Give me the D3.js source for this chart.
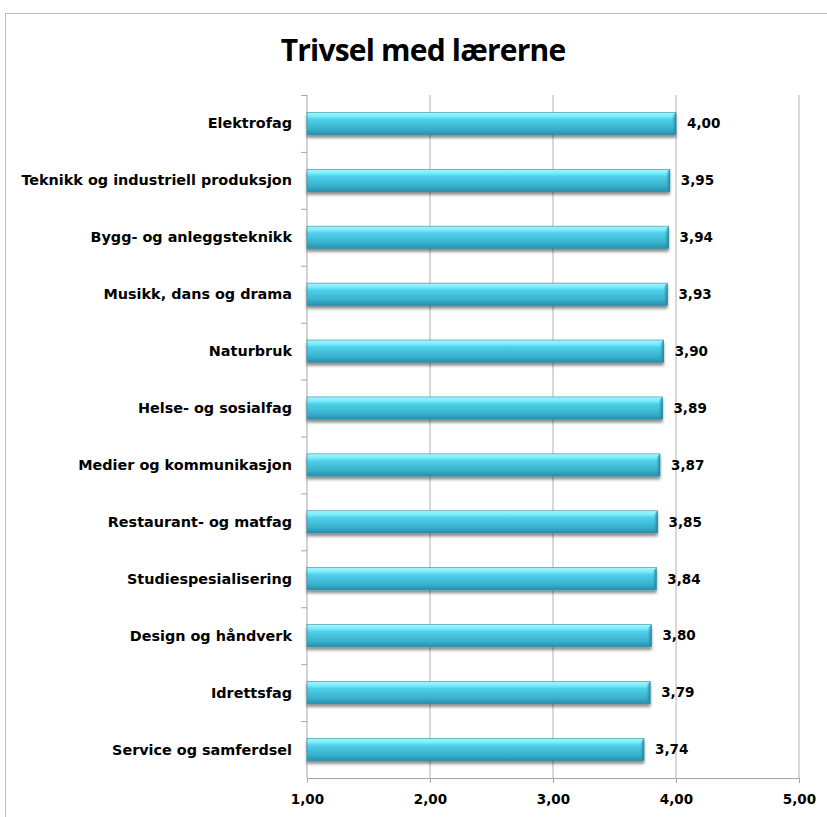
<!DOCTYPE html>
<html>
<head>
<meta charset="utf-8">
<script src="https://cdn.jsdelivr.net/npm/d3@7"></script>
<style>
  body { margin: 0; background: #fff; }
  text { font-family: "DejaVu Sans", Verdana, sans-serif; }
</style>
</head>
<body>
<svg class="chart"></svg>
<script>
const size = {w: 827, h: 817};

// chart data, top to bottom
const categories = [
    'Elektrofag',
    'Teknikk og industriell produksjon',
    'Bygg- og anleggsteknikk',
    'Musikk, dans og drama',
    'Naturbruk',
    'Helse- og sosialfag',
    'Medier og kommunikasjon',
    'Restaurant- og matfag',
    'Studiespesialisering',
    'Design og håndverk',
    'Idrettsfag',
    'Service og samferdsel'
];
const values = [4.00, 3.95, 3.94, 3.93, 3.90, 3.89, 3.87, 3.85, 3.84, 3.80, 3.79, 3.74];
const xTicks = [1, 2, 3, 4, 5];
const title = 'Trivsel med lærerne';

const margin = {top: 95, right: 28, bottom: 39, left: 307};

const svg = d3.select('svg.chart')
    .attr('width', size.w)
    .attr('height', size.h);

const fmt = v => d3.format('.2f')(v).replace('.', ',');

// gradient + shadow definitions for the "bevel" look
const defs = svg.append('defs');
const grad = defs.append('linearGradient')
    .attr('id', 'barGrad')
    .attr('x1', 0).attr('y1', 0).attr('x2', 0).attr('y2', 1);
[[0, '#a6f7ff'], [0.18, '#78ecfc'], [0.32, '#4fd0e9'], [0.75, '#38b1cd'], [1, '#2790ac']]
    .forEach(s => grad.append('stop').attr('offset', s[0]).attr('stop-color', s[1]));

const capGrad = defs.append('linearGradient')
    .attr('id', 'capGrad')
    .attr('x1', 0).attr('y1', 0).attr('x2', 1).attr('y2', 0);
capGrad.append('stop').attr('offset', 0).attr('stop-color', '#2f9ab5').attr('stop-opacity', 0);
capGrad.append('stop').attr('offset', 1).attr('stop-color', '#1f7f99').attr('stop-opacity', 0.9);

const shadow = defs.append('filter')
    .attr('id', 'shadow')
    .attr('x', '-5%').attr('y', '-50%').attr('width', '110%').attr('height', '200%');
shadow.append('feGaussianBlur').attr('in', 'SourceAlpha').attr('stdDeviation', 1.6).attr('result', 'blur');
shadow.append('feOffset').attr('in', 'blur').attr('dx', 0).attr('dy', 2.5).attr('result', 'off');
shadow.append('feComponentTransfer').attr('in', 'off').attr('result', 'sh')
    .append('feFuncA').attr('type', 'linear').attr('slope', 0.45);
const merge = shadow.append('feMerge');
merge.append('feMergeNode').attr('in', 'sh');
merge.append('feMergeNode').attr('in', 'SourceGraphic');

// outer frame
svg.append('rect')
    .attr('x', 5.5).attr('y', 13.5)
    .attr('width', 1000).attr('height', 1000)
    .attr('fill', 'none')
    .attr('stroke', '#b9b9b9');

// title
svg.append('text')
    .attr('x', 423).attr('y', 61)
    .attr('text-anchor', 'middle')
    .style('font-family', '"Open Sans", sans-serif')
    .style('font-size', '30px')
    .style('font-weight', 700)
    .style('letter-spacing', '-0.8px')
    .text(title);

// scales
const x = d3.scaleLinear()
    .domain([1, 5])
    .range([margin.left, size.w - margin.right]);

const y = d3.scaleBand()
    .domain(categories)
    .range([margin.top, size.h - margin.bottom]);

const plotBottom = size.h - margin.bottom;

// vertical gridlines
svg.append('g')
    .selectAll('line')
    .data(xTicks.slice(1))
    .join('line')
    .attr('x1', d => x(d)).attr('x2', d => x(d))
    .attr('y1', margin.top).attr('y2', plotBottom)
    .attr('stroke', '#bfbfbf')
    .attr('stroke-width', 1.2);

// x axis
const xAxis = svg.append('g')
    .attr('transform', `translate(0,${plotBottom})`)
    .call(d3.axisBottom(x).tickValues(xTicks).tickFormat(fmt).tickSize(5).tickPadding(11));
xAxis.select('.domain').attr('stroke', '#a6a6a6');
xAxis.selectAll('.tick line').attr('stroke', '#a6a6a6');
xAxis.selectAll('.tick text')
    .style('font-family', '"DejaVu Sans", sans-serif')
    .style('font-size', '13.5px')
    .style('font-weight', 'bold')
    .attr('fill', '#000');

// y axis (left line plus ticks between categories)
svg.append('line')
    .attr('x1', x(1)).attr('x2', x(1))
    .attr('y1', margin.top).attr('y2', plotBottom)
    .attr('stroke', '#a6a6a6');
svg.append('g')
    .selectAll('line')
    .data(categories)
    .join('line')
    .attr('x1', x(1) - 6).attr('x2', x(1))
    .attr('y1', d => y(d) + 0.5).attr('y2', d => y(d) + 0.5)
    .attr('stroke', '#a6a6a6');

// category labels
svg.append('g')
    .selectAll('text')
    .data(categories)
    .join('text')
    .attr('x', x(1) - 15)
    .attr('y', d => y(d) + y.bandwidth() / 2)
    .attr('dy', '0.35em')
    .attr('text-anchor', 'end')
    .style('font-size', '14.4px')
    .style('font-weight', 'bold')
    .text(d => d);

// bars
const barH = y.bandwidth() * 0.39;
const bars = svg.append('g')
    .selectAll('g')
    .data(values)
    .join('g')
    .attr('transform', (d, i) => `translate(0,${y(categories[i]) + (y.bandwidth() - barH) / 2})`);

bars.append('rect')
    .attr('x', x(1))
    .attr('width', d => x(d) - x(1))
    .attr('height', barH)
    .attr('fill', 'url(#barGrad)')
    .attr('stroke', '#2a8aa3')
    .attr('stroke-width', 0.6)
    .attr('filter', 'url(#shadow)');

// darker bevel at the right end of each bar
bars.append('path')
    .attr('d', d => {
        const xe = x(d), b = 4;
        return `M${xe - b},${b}L${xe},0L${xe},${barH}L${xe - b},${barH - b}Z`;
    })
    .attr('fill', 'url(#capGrad)');

// value labels
bars.append('text')
    .attr('x', d => x(d) + 11)
    .attr('y', barH / 2)
    .attr('dy', '0.35em')
    .style('font-size', '13.5px')
    .style('font-weight', 'bold')
    .text(d => fmt(d));
</script>
</body>
</html>
